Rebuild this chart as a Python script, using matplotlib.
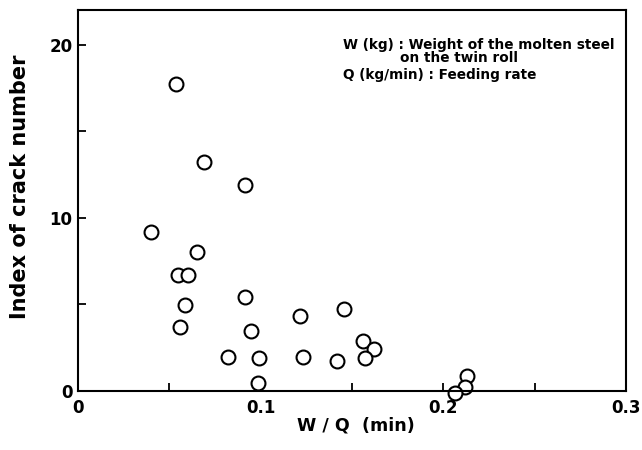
import matplotlib
matplotlib.use("Agg")
import matplotlib.pyplot as plt
from matplotlib.ticker import MultipleLocator

plt.rcParams['font.family'] = ['DejaVu Sans']
plt.rcParams['font.weight'] = 'bold'

# W/Q (min) and index of crack number
wq = [0.0537, 0.069, 0.0914, 0.0401, 0.0652, 0.0548, 0.0603, 0.0588, 0.056,
      0.0914, 0.0949, 0.0822, 0.0993, 0.0984, 0.1214, 0.1232, 0.1454, 0.1418,
      0.1559, 0.1623, 0.1571, 0.2132, 0.2117, 0.2066]
crack = [17.7, 13.2, 11.9, 9.2, 8.0, 6.7, 6.7, 4.95, 3.7,
         5.45, 3.45, 1.95, 1.9, 0.45, 4.35, 1.95, 4.75, 1.75,
         2.9, 2.4, 1.9, 0.85, 0.25, -0.1]

xticks = [0, 0.1, 0.2, 0.3]
xticklabels = ['0', '0.1', '0.2', '0.3']
yticks = [0, 10, 20]

fig = plt.figure(figsize=(6.42, 4.5), dpi=100)
ax = fig.add_axes([0.1215, 0.131, 0.8535, 0.847])

ax.plot(wq, crack, 'o', mfc='white', mec='black', mew=1.5, ms=10, clip_on=False)

ax.set_xlim(0, 0.3)
ax.set_ylim(0, 22)
ax.set_xticks(xticks)
ax.set_xticklabels(xticklabels)
ax.set_yticks(yticks)
ax.xaxis.set_minor_locator(MultipleLocator(0.05))
ax.yaxis.set_minor_locator(MultipleLocator(5))
ax.tick_params(which='both', direction='in', length=6, width=1.3, labelsize=12)
ax.tick_params(axis='x', pad=6)
ax.tick_params(axis='y', pad=4)
for s in ax.spines.values():
    s.set_linewidth(1.5)

ax.set_xlabel('W / Q  (min)', fontsize=12.6, fontweight='bold')
ax.xaxis.set_label_coords(0.5065, -0.068)
ax.set_ylabel('Index of crack number', fontsize=15, fontweight='bold')
ax.yaxis.set_label_coords(-0.088, 0.537)

ax.text(0.4836, 0.926, 'W (kg) : Weight of the molten steel\n            on the twin roll',
        transform=ax.transAxes, fontsize=9.8, fontweight='bold', va='top',
        linespacing=0.88)
ax.text(0.4836, 0.829, 'Q (kg/min) : Feeding rate', transform=ax.transAxes,
        fontsize=9.8, fontweight='bold', va='center')

fig.savefig('out.png', dpi=100)
